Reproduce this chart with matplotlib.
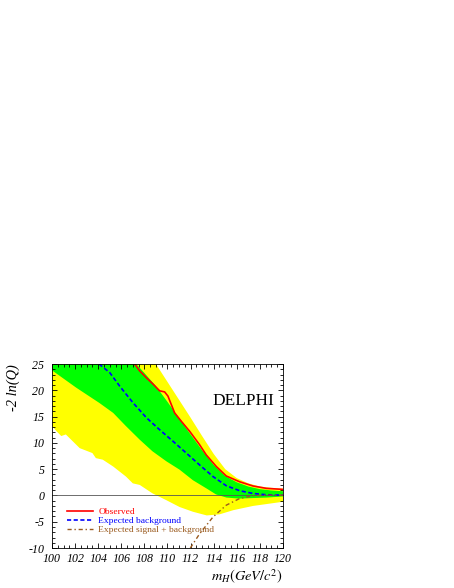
import matplotlib
matplotlib.use("Agg")
import matplotlib.pyplot as plt
import numpy as np
from matplotlib.ticker import MultipleLocator

plt.rcParams["font.family"] = ["Liberation Serif", "DejaVu Serif"]
plt.rcParams["mathtext.fontset"] = "stix"
plt.rcParams["axes.unicode_minus"] = False

# Data
x_ticks = [100, 102, 104, 106, 108, 110, 112, 114, 116, 118, 120]
y_ticks = [-10, -5, 0, 5, 10, 15, 20, 25]

# observed -2ln(Q)
obs_x = [107.16, 107.59, 108.17, 108.74, 109.32, 109.75, 110.04, 110.62, 111.20,
         111.92, 112.78, 113.36, 114.23, 115.09, 116.25, 117.40, 118.56, 120.0]
obs_y = [25.0, 23.7, 22.4, 21.2, 19.9, 19.7, 18.9, 15.7, 14.1,
         12.2, 9.65, 7.7, 5.5, 3.7, 2.6, 1.8, 1.35, 1.15]

# expected background
bkg_x = [104.07, 104.99, 105.86, 107.01, 108.17, 109.32, 110.48, 111.63,
         112.78, 113.94, 115.09, 116.25, 117.40, 118.56, 120.0]
bkg_y = [25.0, 23.4, 20.8, 17.65, 14.8, 12.5, 10.3, 8.06,
         5.8, 3.6, 1.85, 0.9, 0.38, 0.13, 0.06]

# expected signal + background
sig_x = [111.98, 112.78, 113.94, 115.09, 116.25, 117.40, 118.56, 120.0]
sig_y = [-10.0, -7.3, -4.1, -1.85, -0.58, -0.06, 0.06, 0.06]

# 1 sigma band (green)
g_hi_x = [100, 107.3, 108, 109, 110, 111, 112, 113, 114, 115, 116, 117, 118, 119, 120]
g_hi_y = [46, 25, 23.3, 20.8, 17.8, 14.7, 11.6, 8.6, 5.8, 3.7, 2.5, 1.7, 1.2, 0.95, 0.8]
g_lo_x = [100, 102.1, 104.1, 105.3, 106.4, 107.6, 108.7, 109.9, 111.05,
          112.2, 113.4, 114.2, 115.1, 116.2, 118.6, 120]
g_lo_y = [23.8, 20.5, 17.6, 15.7, 13.2, 10.6, 8.4, 6.5, 4.9,
          2.9, 1.3, 0.2, -0.4, -0.6, -0.4, -0.2]

# 2 sigma band (yellow)
y_hi_x = [100, 109, 110, 111, 112, 113, 114, 115, 116, 117, 118, 119, 120]
y_hi_y = [56, 25, 21.6, 18.2, 14.8, 11.3, 7.9, 5.0, 3.3, 2.3, 1.7, 1.45, 1.3]
y_lo_x = [100, 100.4, 100.8, 101.2, 102.4, 103.5, 103.8, 104.4, 105.3, 106.4,
          107.0, 107.6, 108.7, 109.9, 111.05, 112.2, 113.4, 114.5, 115.7, 117.4, 120]
y_lo_y = [13.2, 12.2, 11.3, 11.6, 9.0, 8.06, 7.1, 6.8, 5.5, 3.6,
          2.3, 2.0, 0.4, -0.9, -2.2, -3.1, -3.8, -3.6, -2.8, -2.0, -1.2]

fig = plt.figure(figsize=(4.54, 5.88), dpi=100)
ax = fig.add_axes([0.1145, 0.068, 0.5088, 0.3129])

ax.fill(np.concatenate([y_hi_x, y_lo_x[::-1]]),
        np.concatenate([y_hi_y, y_lo_y[::-1]]),
        color="#ffff00", lw=0, zorder=1)
ax.fill(np.concatenate([g_hi_x, g_lo_x[::-1]]),
        np.concatenate([g_hi_y, g_lo_y[::-1]]),
        color="#00ff00", lw=0, zorder=2)

ax.axhline(0, color="#555555", lw=0.6, zorder=3)

ax.plot(obs_x, obs_y, color="#ff0000", lw=1.2, zorder=5, label="Observed")
ax.plot(bkg_x, bkg_y, color="#0000ff", lw=1.2, ls=(0, (2.5, 1.5)), zorder=5,
        label="Expected background")
ax.plot(sig_x, sig_y, color="#9a5a1e", lw=1.0, ls=(0, (3, 2, 1, 2)), zorder=5,
        label="Expected signal + background")

ax.set_xlim(100, 120)
ax.set_ylim(-10, 25)
ax.set_xticks(x_ticks)
ax.set_xticklabels([str(v) for v in x_ticks], fontstyle="italic")
ax.set_yticks(y_ticks)
ax.set_yticklabels([str(v) for v in y_ticks], fontstyle="italic")
ax.xaxis.set_minor_locator(MultipleLocator(0.5))
ax.yaxis.set_minor_locator(MultipleLocator(1))
ax.tick_params(which="both", direction="in", top=True, right=True,
               labelsize=8.6, width=0.6)
ax.tick_params(which="major", length=3.6)
ax.tick_params(which="minor", length=2.0)
ax.tick_params(axis="y", pad=5.5)
for s in ax.spines.values():
    s.set_linewidth(0.6)
    s.set_zorder(6)
ax.set_axisbelow(False)

ax.set_ylabel("-2 ln(Q)", fontsize=10.4, fontstyle="italic", loc="top", labelpad=6)
ax.set_xlabel(r"$m_H(GeV/c^2)$", fontsize=10.4, loc="right", labelpad=2)

ax.text(0.96, 0.8, "DELPHI", transform=ax.transAxes, fontsize=12.4,
        ha="right", va="center", zorder=7)

leg = ax.legend(loc="lower left", bbox_to_anchor=(0.05, 0.055), frameon=False,
                fontsize=6.8, handlelength=2.7, labelspacing=0.05,
                handletextpad=0.6, borderaxespad=0)
for txt, c in zip(leg.get_texts(), ["#ff0000", "#0000ff", "#9a5a1e"]):
    txt.set_color(c)

fig.savefig("out.png", dpi=100)
